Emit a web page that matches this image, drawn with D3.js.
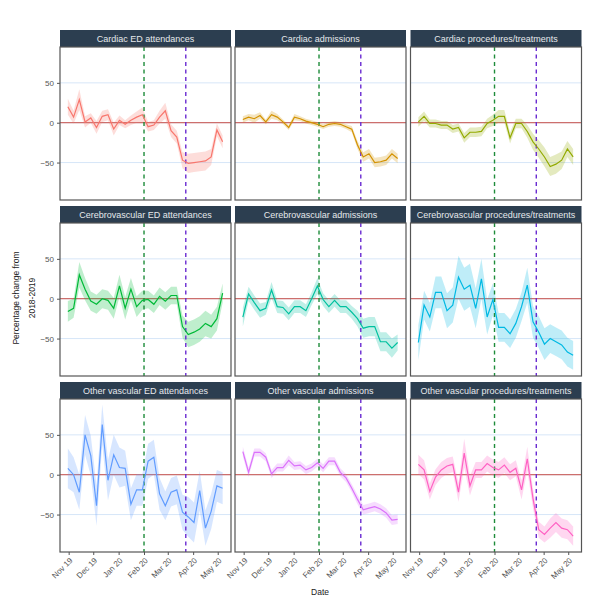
<!DOCTYPE html>
<html><head><meta charset="utf-8">
<script src="https://cdn.jsdelivr.net/npm/d3@7"></script>
<style>body{margin:0;background:#fff;} svg{display:block;font-family:"Liberation Sans",Arial,sans-serif;}</style>
</head><body><svg id="chart" width="606" height="605"></svg>
<script>
const panelTitles = ["Cardiac ED attendances","Cardiac admissions","Cardiac procedures/treatments",
  "Cerebrovascular ED attendances","Cerebrovascular admissions","Cerebrovascular procedures/treatments",
  "Other vascular ED attendances","Other vascular admissions","Other vascular procedures/treatments"];
const panelColors = ["#F8766D","#D39200","#93AA00","#00BA38","#00C19F","#00B9E3","#619CFF","#DB72FB","#FF61C3"];
const firstWeek = "2019-10-31";
const nWeeks = 28;
const eventDates = ["2020-02-01","2020-03-23"];
const eventColors = ["#1e8c3a","#6a2bd1"];
const monthTicks = ["2019-11-01","2019-12-01","2020-01-01","2020-02-01","2020-03-01","2020-04-01","2020-05-01"];
const yTicks = [-50,0,50];

const cardiacED     = [20,7,29,1,6,-6,8,10,-8,3,-2,3,7,10,-5,-3,7,15,-10,-18,-47,-51,-50,-49,-48,-43,-9,-24];
const cardiacEDci   = [10,8,13,7,6,8,7,7,8,6,5,6,7,9,6,6,8,10,8,8,10,12,12,12,12,10,8,8];
const cardiacAdm    = [4,7,5,9,1,10,7,1,-6,7,5,2,0,-2,-5,-2,-1,-2,-5,-8,-28,-43,-39,-50,-49,-47,-39,-45];
const cardiacAdmCi  = [4,4,5,4,3,5,4,3,3,4,3,3,3,3,3,3,3,3,3,4,5,6,6,6,6,6,6,6];
const cardiacProc   = [1,8,-1,-1,-3,-3,-8,-6,-19,-12,-12,-11,-1,3,8,8,-19,-1,-1,-11,-24,-33,-43,-55,-52,-47,-33,-43];
const cardiacProcCi = [6,6,5,5,5,5,5,5,6,6,6,6,6,7,8,8,7,6,6,8,10,11,12,12,12,11,10,10];
const cerebroED     = [-16,-12,30,12,-3,-7,0,-2,-12,16,-12,12,-10,-2,-1,-7,3,-3,4,4,-35,-45,-42,-38,-31,-35,-25,7];
const cerebroEDci   = [13,12,16,14,12,12,12,12,13,14,14,14,13,12,11,11,11,11,11,11,14,16,16,16,16,15,15,12];
const cerebroAdm    = [-23,6,-5,-15,-12,11,-10,-11,-19,-10,-10,-15,0,16,-1,-10,-2,-10,-10,-17,-25,-37,-35,-35,-54,-54,-62,-55];
const cerebroAdmCi  = [12,9,9,9,8,10,8,8,8,8,8,8,8,10,8,8,8,8,8,8,10,12,12,12,12,12,12,10];
const cerebroProc   = [-55,-8,-23,8,8,-15,-8,27,12,17,-12,25,-23,-1,-36,-36,-44,-31,-10,17,-29,-42,-57,-50,-54,-58,-67,-71];
const cerebroProcCi = [22,18,18,20,20,22,22,27,27,27,25,25,22,20,18,18,18,18,18,22,20,20,20,18,18,18,18,18];
const otherED       = [8,0,-22,50,24,-39,63,-7,25,9,8,-37,-19,-19,17,22,-24,-39,-22,-19,-47,-53,-60,-20,-67,-46,-14,-17];
const otherEDci     = [25,22,22,25,25,25,25,25,25,25,22,20,20,20,22,22,20,18,18,18,22,25,25,25,22,22,20,20];
const otherAdm      = [29,3,28,28,22,1,9,9,18,11,12,6,9,15,8,17,17,3,-4,-17,-31,-44,-42,-40,-43,-48,-57,-56];
const otherAdmCi    = [6,6,5,5,5,5,5,5,6,5,5,5,5,5,5,5,5,5,5,5,6,6,6,6,6,6,6,6];
const otherProc     = [13,6,-21,-3,6,11,13,-22,27,-14,6,6,14,9,6,12,3,8,-19,20,-30,-69,-75,-67,-60,-67,-69,-77];
const otherProcCi   = [12,12,10,10,10,10,10,12,18,12,10,10,10,10,10,10,10,10,12,15,12,10,10,12,12,12,12,12];

const seriesValues = [cardiacED,cardiacAdm,cardiacProc,cerebroED,cerebroAdm,cerebroProc,otherED,otherAdm,otherProc];
const seriesCi = [cardiacEDci,cardiacAdmCi,cardiacProcCi,cerebroEDci,cerebroAdmCi,cerebroProcCi,otherEDci,otherAdmCi,otherProcCi];

const parse = d3.utcParse("%Y-%m-%d");
const dates = d3.range(nWeeks).map(i => d3.utcDay.offset(parse(firstWeek), 7*i));

const svg = d3.select("#chart");
const pw = 171, ph = 153, stripH = 17;
const colX = [60, 235, 410.5];
const rowY = [30, 206, 382];

const x = d3.scaleUtc().domain([new Date(Date.UTC(2019,9,21,10)), new Date(Date.UTC(2020,4,17,5))]).range([0, pw]);
const y = d3.scaleLinear().domain([-97, 95]).range([ph, 0]);

seriesValues.forEach((vals, i) => {
  const r = Math.floor(i/3), c = i%3;
  const g = svg.append("g").attr("transform", `translate(${colX[c]},${rowY[r]})`);
  g.append("rect").attr("x",0).attr("y",0).attr("width",pw).attr("height",stripH).attr("fill","#2c3e50");
  g.append("text").attr("x",pw/2).attr("y",stripH/2+3.2).attr("text-anchor","middle")
    .attr("font-size",9).attr("fill","#e6e9ec").text(panelTitles[i]);
  const p = g.append("g").attr("transform",`translate(0,${stripH})`);
  p.selectAll("line.grid").data(yTicks).join("line").attr("class","grid")
    .attr("x1",0).attr("x2",pw).attr("y1",d=>y(d)).attr("y2",d=>y(d))
    .attr("stroke","#d7e6f8").attr("stroke-width",1);
  p.append("line").attr("x1",0).attr("x2",pw).attr("y1",y(0)).attr("y2",y(0))
    .attr("stroke","#c8504a").attr("stroke-width",1);
  const ci = seriesCi[i];
  const data = vals.map((v,k)=>({d:dates[k], v, lo:v-ci[k], hi:v+ci[k]}));
  p.append("path").datum(data).attr("fill",panelColors[i]).attr("fill-opacity",0.25)
    .attr("d", d3.area().x(d=>x(d.d)).y0(d=>y(d.lo)).y1(d=>y(d.hi)));
  eventDates.forEach((ed,j)=>{
    const xe = x(parse(ed));
    p.append("line").attr("x1",xe).attr("x2",xe).attr("y1",0).attr("y2",ph)
      .attr("stroke",eventColors[j]).attr("stroke-width",1.4).attr("stroke-dasharray","4,3.5");
  });
  p.append("path").datum(data).attr("fill","none").attr("stroke",panelColors[i]).attr("stroke-width",1.2)
    .attr("d", d3.line().x(d=>x(d.d)).y(d=>y(d.v)));
  p.append("rect").attr("x",0).attr("y",0).attr("width",pw).attr("height",ph)
    .attr("fill","none").attr("stroke","#555").attr("stroke-width",1.2);
  if (c === 0) {
    const ya = p.append("g").call(d3.axisLeft(y).tickValues(yTicks).tickSize(3).tickFormat(d3.format("d")));
    ya.select(".domain").remove();
    ya.selectAll("line").attr("stroke","#555");
    ya.selectAll("text").attr("font-size",8).attr("fill","#555").attr("font-family","Liberation Sans, Arial, sans-serif");
  }
  if (r === 2) {
    const xa = p.append("g").attr("transform",`translate(0,${ph})`)
      .call(d3.axisBottom(x).tickValues(monthTicks.map(parse)).tickSize(3).tickFormat(d3.utcFormat("%b %y")));
    xa.select(".domain").remove();
    xa.selectAll("line").attr("stroke","#555");
    xa.selectAll("text").attr("font-size",8).attr("fill","#555").attr("font-family","Liberation Sans, Arial, sans-serif")
      .attr("text-anchor","end").attr("dy",null).attr("y",0)
      .attr("transform","translate(4,9) rotate(-45)");
  }
});

svg.append("text").attr("transform","translate(19,298) rotate(-90)").attr("text-anchor","middle")
  .attr("font-size",8.5).attr("fill","#222").text("Percentage change from");
svg.append("text").attr("transform","translate(35,298) rotate(-90)").attr("text-anchor","middle")
  .attr("font-size",8.5).attr("fill","#222").text("2018-2019");
svg.append("text").attr("x",320).attr("y",595).attr("text-anchor","middle")
  .attr("font-size",8.5).attr("fill","#222").text("Date");
</script></body></html>
